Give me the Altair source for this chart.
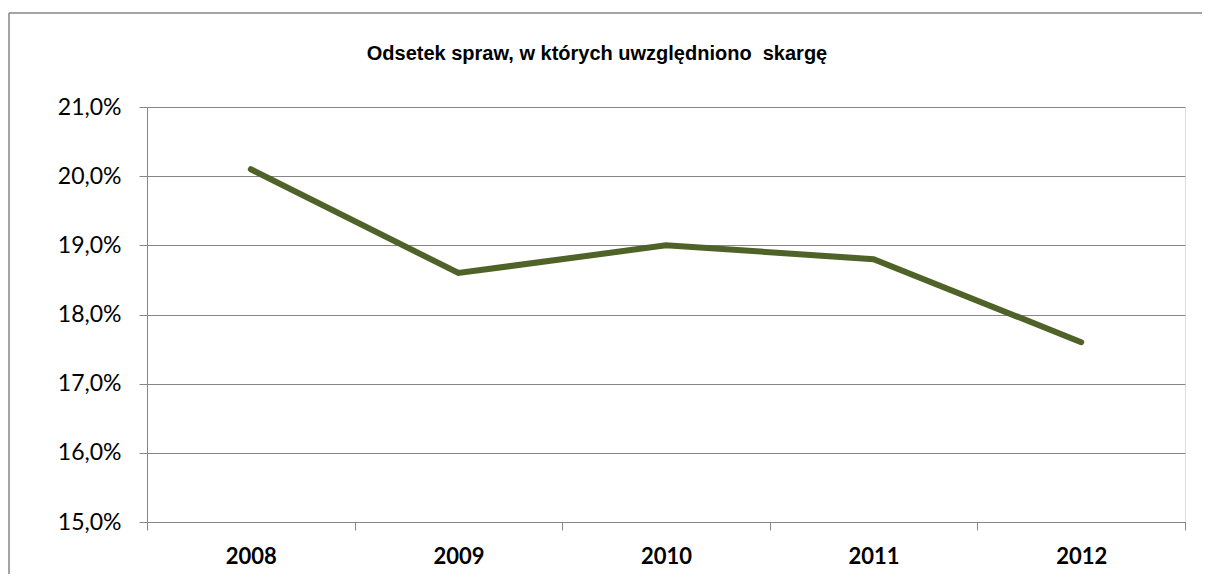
import altair as alt
import pandas as pd

years = ["2008", "2009", "2010", "2011", "2012"]
values = [20.1, 18.6, 19.0, 18.8, 17.6]
title_text = "Odsetek spraw, w których uwzględniono\u00a0 skargę"

df = pd.DataFrame({"rok": years, "odsetek": values})
one = pd.DataFrame({"a": [0]})

W, H = 1038, 415
GRAY = "#868686"

x_enc = alt.X("rok:N", sort=years, title=None,
              scale=alt.Scale(paddingInner=0, paddingOuter=0),
              axis=alt.Axis(labelAngle=0, labelFont="Lato", labelFontSize=22,
                            labelFontWeight="bold", labelColor="#000000",
                            labelPadding=16, tickBand="extent", tickSize=8,
                            tickColor=GRAY, domainColor=GRAY, grid=False))
y_enc = alt.Y("odsetek:Q", title=None,
              scale=alt.Scale(domain=[15, 21], nice=False, zero=False),
              axis=alt.Axis(values=[15, 16, 17, 18, 19, 20, 21],
                            labelExpr="replace(format(datum.value, '.1f'), '.', ',') + '%'",
                            labelFont="Lato", labelFontSize=23, labelColor="#000000",
                            labelPadding=18, tickSize=8, tickColor=GRAY,
                            domainColor=GRAY, gridColor=GRAY, grid=True,
                            gridOpacity=1))

line = alt.Chart(df).mark_line(color="#4F6228", strokeWidth=6,
                               strokeCap="round", strokeJoin="miter").encode(
    x=x_enc, y=y_enc)

border_top = alt.Chart(one).mark_rule(color=GRAY, strokeWidth=1.5).encode(
    x=alt.value(-138), x2=alt.value(1100), y=alt.value(-94))
border_left = alt.Chart(one).mark_rule(color=GRAY, strokeWidth=1.5).encode(
    x=alt.value(-138), y=alt.value(-94), y2=alt.value(500))

title = alt.Chart(one).mark_text(text=title_text, font="Liberation Sans",
                                 fontSize=20, fontWeight="bold", color="#000000",
                                 align="center", baseline="alphabetic").encode(
    x=alt.value(450), y=alt.value(-47))

chart = alt.layer(border_top, border_left, line, title).properties(
    width=W, height=H,
    autosize=alt.AutoSizeParams(type="none"),
    padding={"left": 139, "top": 99, "right": 17, "bottom": 52},
).configure_view(stroke=None).configure(background="white")

chart.save("out.html", embed_options={"renderer": "svg", "actions": False})
